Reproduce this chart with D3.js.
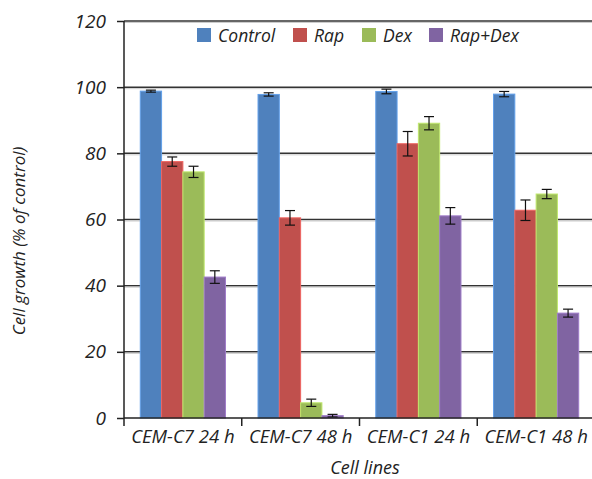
<!DOCTYPE html>
<html><head><meta charset="utf-8">
<script src="https://cdn.jsdelivr.net/npm/d3@7"></script>
<style>body{margin:0;background:#fff}svg{display:block}text{font-family:"Open Sans",sans-serif;font-style:italic;fill:#222}</style>
</head><body><svg id="c" width="592" height="479"></svg>
<script>
const categories = ["CEM-C7 24 h","CEM-C7 48 h","CEM-C1 24 h","CEM-C1 48 h"];
const seriesNames = ["Control","Rap","Dex","Rap+Dex"];
const colors = ["#4F81BD","#C0504D","#9BBB59","#8064A2"];
const control = [98.8, 97.8, 98.7, 97.9];
const controlErr = [0.3, 0.5, 0.7, 0.8];
const rap = [77.5, 60.5, 82.9, 62.8];
const rapErr = [1.4, 2.2, 3.7, 3.1];
const dex = [74.4, 4.6, 89.1, 67.7];
const dexErr = [1.7, 1.1, 2.0, 1.4];
const rapDex = [42.6, 0.7, 61.1, 31.7];
const rapDexErr = [1.9, 0.4, 2.5, 1.2];
const yTicks = [0,20,40,60,80,100,120];

const values = [control, rap, dex, rapDex];
const errs = [controlErr, rapErr, dexErr, rapDexErr];

const svg = d3.select("#c");
const L = 124, R = 595, T = 21, B = 418;
const y = d3.scaleLinear().domain([0,120]).range([B,T]);
const x0 = d3.scaleBand().domain(categories).range([L,R]).paddingInner(0).paddingOuter(0);
const bw = 21.3;
const groupW = bw*4;
const x1 = d3.scaleBand().domain(seriesNames).range([0,groupW]).padding(0);

// gridlines
svg.append("g").selectAll("line").data(yTicks.filter(d=>d>0)).join("line")
  .attr("x1",L).attr("x2",592).attr("y1",d=>y(d)).attr("y2",d=>y(d))
  .attr("stroke","#333").attr("stroke-width",1.5);
svg.append("g").selectAll("line").data(yTicks.filter(d=>d>0)).join("line")
  .attr("x1",L).attr("x2",592).attr("y1",d=>y(d)+1.5).attr("y2",d=>y(d)+1.5)
  .attr("stroke","#ccc").attr("stroke-width",1);

// bars
const data = [];
categories.forEach((c,i)=>seriesNames.forEach((s,j)=>data.push({c,s,j,v:values[j][i],e:errs[j][i]})));
const g = svg.append("g");
g.selectAll("rect").data(data).join("rect")
  .attr("x",d=>x0(d.c)+(x0.bandwidth()-groupW)/2+x1(d.s))
  .attr("width",x1.bandwidth())
  .attr("y",d=>y(d.v)).attr("height",d=>B-y(d.v))
  .attr("fill",d=>colors[d.j])
  .attr("stroke",d=>d3.color(colors[d.j]).brighter(0.6)).attr("stroke-width",1);

// error bars
const eg = svg.append("g").attr("stroke","#111").attr("stroke-width",1.2);
data.forEach(d=>{
  const cx = x0(d.c)+(x0.bandwidth()-groupW)/2+x1(d.s)+x1.bandwidth()/2;
  eg.append("line").attr("x1",cx).attr("x2",cx).attr("y1",y(d.v+d.e)).attr("y2",y(d.v-d.e));
  eg.append("line").attr("x1",cx-5).attr("x2",cx+5).attr("y1",y(d.v+d.e)).attr("y2",y(d.v+d.e));
  eg.append("line").attr("x1",cx-5).attr("x2",cx+5).attr("y1",y(d.v-d.e)).attr("y2",y(d.v-d.e));
});

// y axis
const ya = svg.append("g").attr("transform",`translate(${L},0)`)
  .call(d3.axisLeft(y).tickValues(yTicks).tickSize(7).tickPadding(11));
ya.select(".domain").attr("stroke","#222").attr("stroke-width",1.5).attr("d",`M0,${T}V${B+8}`);
ya.selectAll(".tick line").attr("stroke","#222").attr("stroke-width",1.5);
ya.selectAll(".tick text").attr("font-size",19).style("font-family","'Open Sans',sans-serif").style("font-style","italic").attr("fill","#222");

// x axis
const xa = svg.append("g").attr("transform",`translate(0,${B})`)
  .call(d3.axisBottom(x0).tickSize(0).tickPadding(12));
xa.select(".domain").attr("stroke","#222").attr("stroke-width",1.5).attr("d",`M${L},0H592`);
xa.selectAll(".tick text").attr("font-size",18.5).style("font-family","'Open Sans',sans-serif").style("font-style","italic").attr("fill","#222");
svg.append("g").selectAll("line").data(categories.slice(1)).join("line")
  .attr("x1",d=>x0(d)).attr("x2",d=>x0(d)).attr("y1",B).attr("y2",B+8)
  .attr("stroke","#222").attr("stroke-width",1.5);

// titles
svg.append("text").attr("x",365).attr("y",474).attr("text-anchor","middle").attr("font-size",18).text("Cell lines");
svg.append("text").attr("transform","translate(25,241) rotate(-90)").attr("text-anchor","middle").attr("font-size",17).text("Cell growth (% of control)");

// legend
const legX = [197, 293, 362, 429];
const lg = svg.append("g");
seriesNames.forEach((s,j)=>{
  lg.append("rect").attr("x",legX[j]).attr("y",28).attr("width",14).attr("height",14).attr("fill",colors[j]);
  lg.append("text").attr("x",legX[j]+21).attr("y",41.5).attr("font-size",17.5).text(s);
});
</script></body></html>
